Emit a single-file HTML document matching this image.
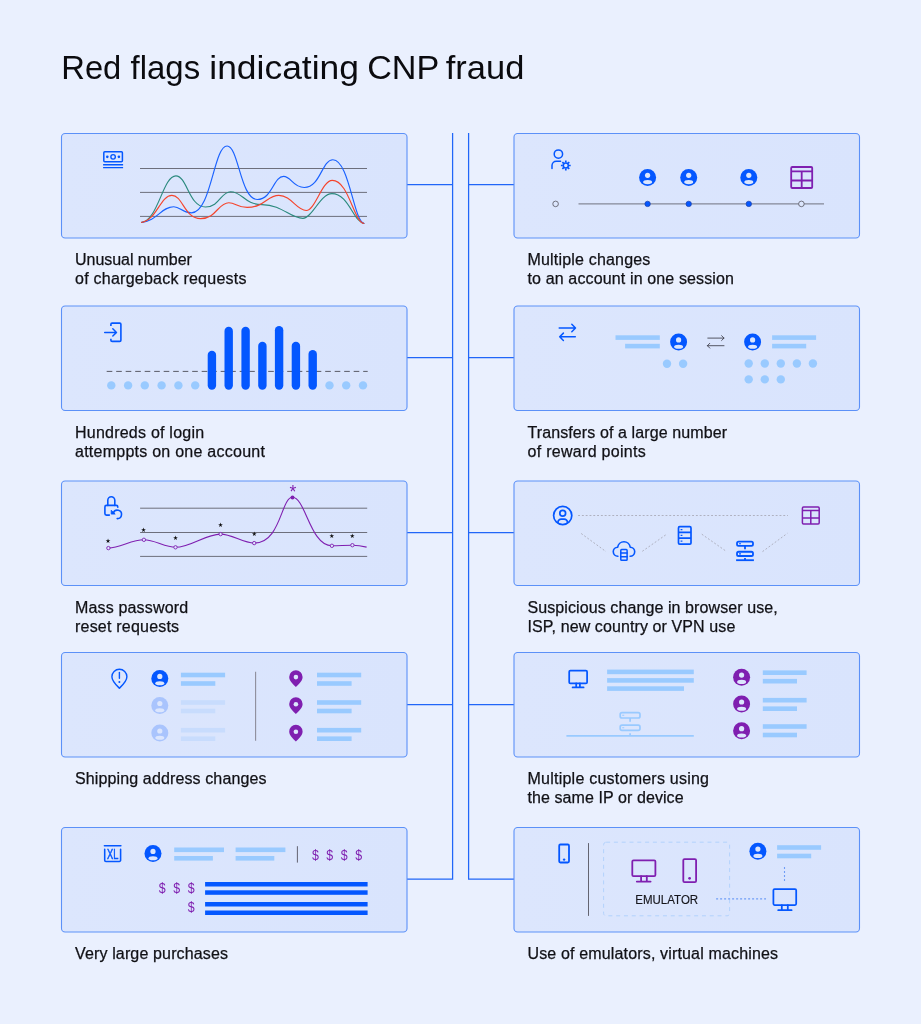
<!DOCTYPE html>
<html lang="en">
<head>
<meta charset="utf-8">
<title>Red flags indicating CNP fraud</title>
<style>
html,body{margin:0;padding:0;background:#eaf0fe;}
body{width:921px;height:1024px;overflow:hidden;position:relative;font-family:"Liberation Sans",Arial,sans-serif;}
svg{position:absolute;left:0;top:0;display:block}
text{font-family:"Liberation Sans",Arial,sans-serif;}
.title{font-size:33px;fill:#0b0b0f;}
.lbl{font-size:16px;fill:#111116;stroke:#111116;stroke-width:0.25;}
.card{fill:url(#cardg);stroke:#5c91f8;stroke-width:1.1;}
.conn{stroke:#2166f8;stroke-width:1.25;fill:none;}
.grid{stroke:#50505b;stroke-width:0.8;fill:none;}
.star{font-family:"DejaVu Sans",sans-serif;font-size:6.2px;fill:#111;text-anchor:middle;}
.dol{font-size:14.8px;fill:#7f1fb0;text-anchor:middle;}
</style>
</head>
<body>
<svg width="921" height="1024" viewBox="0 0 921 1024">
<defs>
<linearGradient id="cardg" x1="0" y1="0" x2="1" y2="0">
<stop offset="0" stop-color="#dce6fd"/><stop offset="1" stop-color="#d9e4fd"/>
</linearGradient>
</defs>
<rect width="921" height="1024" fill="#eaf0fe"/>
<!-- TITLE -->
<text id="title" class="title" y="79"><tspan x="61.3" textLength="60" lengthAdjust="spacingAndGlyphs">Red</tspan> <tspan x="130.6" textLength="69.5" lengthAdjust="spacingAndGlyphs">flags</tspan> <tspan x="209.3" textLength="149.7" lengthAdjust="spacingAndGlyphs">indicating</tspan> <tspan x="367.2" textLength="71.5" lengthAdjust="spacingAndGlyphs">CNP</tspan> <tspan x="445.8" textLength="78.5" lengthAdjust="spacingAndGlyphs">fraud</tspan></text>
<!-- CONNECTORS -->
<g class="conn" id="connectors">
<path d="M452.6 133V879.2H407"/>
<path d="M468.6 133V879.2H514"/>
<path d="M407 184.5H452.6M468.6 184.5H514"/>
<path d="M407 357.5H452.6M468.6 357.5H514"/>
<path d="M407 532.5H452.6M468.6 532.5H514"/>
<path d="M407 704.5H452.6M468.6 704.5H514"/>
</g>
<!-- CARDS -->
<g id="cards">
<rect class="card" x="61.5" y="133.5" width="345.5" height="104.5" rx="3.6"/>
<rect class="card" x="61.5" y="306" width="345.5" height="104.5" rx="3.6"/>
<rect class="card" x="61.5" y="481" width="345.5" height="104.5" rx="3.6"/>
<rect class="card" x="61.5" y="652.5" width="345.5" height="104.5" rx="3.6"/>
<rect class="card" x="61.5" y="827.5" width="345.5" height="104.5" rx="3.6"/>
<rect class="card" x="514" y="133.5" width="345.5" height="104.5" rx="3.6"/>
<rect class="card" x="514" y="306" width="345.5" height="104.5" rx="3.6"/>
<rect class="card" x="514" y="481" width="345.5" height="104.5" rx="3.6"/>
<rect class="card" x="514" y="652.5" width="345.5" height="104.5" rx="3.6"/>
<rect class="card" x="514" y="827.5" width="345.5" height="104.5" rx="3.6"/>
</g>
<!-- LABELS -->
<g id="labels" class="lbl">
<text x="75" y="265" textLength="116.9" lengthAdjust="spacing">Unusual number</text>
<text x="75" y="284" textLength="171.5" lengthAdjust="spacing">of chargeback requests</text>
<text x="75" y="438" textLength="129.1" lengthAdjust="spacing">Hundreds of login</text>
<text x="75" y="457" textLength="189.9" lengthAdjust="spacing">attemppts on one account</text>
<text x="75" y="613" textLength="113.1" lengthAdjust="spacing">Mass password</text>
<text x="75" y="632" textLength="104.1" lengthAdjust="spacing">reset requests</text>
<text x="75" y="784" textLength="191.5" lengthAdjust="spacing">Shipping address changes</text>
<text x="75" y="959" textLength="153.0" lengthAdjust="spacing">Very large purchases</text>
<text x="527.5" y="265" textLength="122.8" lengthAdjust="spacing">Multiple changes</text>
<text x="527.5" y="284" textLength="206.5" lengthAdjust="spacing">to an account in one session</text>
<text x="527.5" y="438" textLength="199.5" lengthAdjust="spacing">Transfers of a large number</text>
<text x="527.5" y="457" textLength="118.3" lengthAdjust="spacing">of reward points</text>
<text x="527.5" y="612.6" textLength="250.2" lengthAdjust="spacing">Suspicious change in browser use,</text>
<text x="527.5" y="631.6" textLength="207.8" lengthAdjust="spacing">ISP, new country or VPN use</text>
<text x="527.5" y="783.6" textLength="181.5" lengthAdjust="spacing">Multiple customers using</text>
<text x="527.5" y="802.6" textLength="156.1" lengthAdjust="spacing">the same IP or device</text>
<text x="527.5" y="959" textLength="250.5" lengthAdjust="spacing">Use of emulators, virtual machines</text>
</g>
<!-- CARD 1 -->
<g id="c1">
<g fill="none" stroke="#0457ff" stroke-width="1.5"><rect x="103.8" y="151.7" width="18.6" height="10" rx="1"/><circle cx="113.1" cy="156.85" r="2.25" stroke-width="1.4"/><path d="M103.1 164.75H123.1M103.1 167.6H123.1" stroke-width="1.4"/></g><circle cx="107.3" cy="156.85" r="1.3" fill="#0457ff"/><circle cx="118.9" cy="156.85" r="1.3" fill="#0457ff"/>
<path class="grid" d="M140 168.5H367M140 192.4H367M140 216.4H367"/>
<path d="M141.0 222.5C158.4 220.8 162.6 175.9 175.9 175.9C187.1 175.9 188.9 207.0 205.5 207.0C219.5 207.0 221.0 191.7 230.5 191.7C242.5 191.7 244.4 204.6 262.0 204.6C282.4 204.6 289.8 218.3 302.9 218.3C312.2 218.3 320.3 193.6 331.9 193.6C348.7 193.6 353.6 222.6 364.3 223.5" fill="none" stroke="#2b8a7e" stroke-width="1.15"/>
<path d="M141.0 222.5C157.4 220.9 161.3 206.7 173.8 206.7C180.5 206.7 181.5 212.9 191.4 212.9C211.4 212.9 213.5 146.0 227.1 146.0C238.6 146.0 240.4 199.5 257.4 199.5C272.0 199.5 273.6 176.4 283.5 176.4C291.4 176.4 292.7 187.5 304.3 187.5C320.3 187.5 322.0 159.7 332.9 159.7C349.2 159.7 353.9 222.7 364.3 223.5" fill="none" stroke="#1a62ff" stroke-width="1.15"/>
<path d="M141.0 222.5C156.4 221.0 160.2 195.4 171.9 195.4C182.8 195.4 184.5 218.6 200.6 218.6C216.4 218.6 218.1 202.7 228.8 202.7C235.8 202.7 236.9 207.3 247.1 207.3C264.9 207.3 266.8 195.4 278.9 195.4C291.2 195.4 296.6 210.5 306.2 210.5C315.3 210.5 321.9 180.4 332.3 180.4C348.9 180.4 353.7 222.7 364.3 223.5" fill="none" stroke="#f5442c" stroke-width="1.15"/>
</g>
<!-- CARD 2 -->
<g id="c2">
<g fill="none" stroke="#0457ff" stroke-width="1.6" stroke-linejoin="round"><path d="M110.9 325.9V324.3a1.2 1.2 0 0 1 1.2-1.2H119.7a1.2 1.2 0 0 1 1.2 1.2V340.2a1.2 1.2 0 0 1-1.2 1.2H112.1a1.2 1.2 0 0 1-1.2-1.2V338.8"/><path d="M104.7 332.4H116.2M112.8 328.7L116.5 332.4L112.8 336.1" stroke-width="1.45" stroke-linecap="round"/></g>
<path d="M106.7 371.4H367.7" stroke="#4a4a55" stroke-width="0.9" stroke-dasharray="5.6 3.9" fill="none"/>
<g fill="#99caff"><circle cx="111.3" cy="385.4" r="4.2"/><circle cx="128.1" cy="385.4" r="4.2"/><circle cx="144.8" cy="385.4" r="4.2"/><circle cx="161.6" cy="385.4" r="4.2"/><circle cx="178.4" cy="385.4" r="4.2"/><circle cx="195.2" cy="385.4" r="4.2"/><circle cx="329.5" cy="385.4" r="4.2"/><circle cx="346.2" cy="385.4" r="4.2"/><circle cx="363.0" cy="385.4" r="4.2"/></g>
<g stroke="#0457ff" stroke-width="8.4" stroke-linecap="round" fill="none"><path d="M211.9 354.9V385.6"/><path d="M228.7 331.0V385.6"/><path d="M245.6 331.0V385.6"/><path d="M262.4 346.0V385.6"/><path d="M279.1 330.2V385.6"/><path d="M295.9 346.0V385.6"/><path d="M312.7 354.1V385.6"/></g>
</g>
<!-- CARD 3 -->
<g id="c3">
<g fill="none" stroke="#0457ff" stroke-width="1.6" stroke-linecap="round" stroke-linejoin="round"><path d="M109.4 515.1H106.4a1.5 1.5 0 0 1-1.5-1.5V506.9a1.5 1.5 0 0 1 1.5-1.5H116.3a1.5 1.5 0 0 1 1.5 1.5V507.3"/><path d="M107.8 505.4V500.2a3.5 3.5 0 0 1 7 0V505.4"/><path d="M117.2 518.6A4.2 4.2 0 1 0 113.4 512.9"/></g><path d="M111.2 510.2V514.1H115.2Z" fill="#0457ff" stroke="#0457ff" stroke-width="0.8" stroke-linejoin="round"/>
<path class="grid" d="M140.1 508.2H367.2M140.1 532.5H367.2M140.1 556.4H367.2"/>
<path d="M108.4 548.1C120.5 547.5 131.8 539.8 143.9 539.8C154.6 539.8 164.8 547.3 175.5 547.3C190.8 547.3 205.3 534.1 220.6 534.1C232.0 534.1 242.8 543.1 254.2 543.1C281.0 543.1 281.0 497.3 292.5 497.3C305.5 497.3 310.2 545.8 331.9 545.8C338.9 545.8 345.4 545.2 352.4 545.2C357.2 545.2 361.8 545.9 366.6 547.1" fill="none" stroke="#7f1fb0" stroke-width="1.1"/>
<g fill="#dce6fd" stroke="#7f1fb0" stroke-width="0.9"><circle cx="108.4" cy="548.1" r="1.7"/><circle cx="143.9" cy="539.8" r="1.7"/><circle cx="175.5" cy="547.3" r="1.7"/><circle cx="220.6" cy="534.1" r="1.7"/><circle cx="254.2" cy="543.1" r="1.7"/><circle cx="331.9" cy="545.8" r="1.7"/><circle cx="352.4" cy="545.2" r="1.7"/></g><circle cx="292.5" cy="497.5" r="2" fill="#7f1fb0"/>
<text class="star" x="108.0" y="543.2">★</text><text class="star" x="143.5" y="532.2">★</text><text class="star" x="175.5" y="539.6">★</text><text class="star" x="220.6" y="526.5">★</text><text class="star" x="254.2" y="535.7">★</text><text class="star" x="331.9" y="538.4">★</text><text class="star" x="352.4" y="537.5">★</text>
<text x="292.8" y="497.8" font-size="17.5" fill="#7f1fb0" text-anchor="middle">*</text>
</g>
<!-- CARD 4 -->
<g id="c4">
<g fill="none" stroke="#0457ff" stroke-width="1.4" stroke-linecap="round" stroke-linejoin="round"><path d="M119.4 688.2C116 685 111.9 681.3 111.9 676.8a7.5 7.5 0 0 1 15 0C126.9 681.3 122.8 685 119.4 688.2Z"/><path d="M119.4 672.4V678.2"/></g><circle cx="119.4" cy="681.9" r="1" fill="#0457ff"/>
<g transform="translate(159.8 678.5)"><circle r="8.5" fill="#0457ff"/><circle cy="-2.1" r="2.6" fill="#dce6fd"/><ellipse cy="4.7" rx="4.5" ry="2.05" fill="#dce6fd"/></g><g transform="translate(159.8 705.6)"><circle r="8.5" fill="#a9c4fd"/><circle cy="-2.1" r="2.6" fill="#dce6fd"/><ellipse cy="4.7" rx="4.5" ry="2.05" fill="#dce6fd"/></g><g transform="translate(159.8 733.1)"><circle r="8.5" fill="#a9c4fd"/><circle cy="-2.1" r="2.6" fill="#dce6fd"/><ellipse cy="4.7" rx="4.5" ry="2.05" fill="#dce6fd"/></g>
<rect x="180.9" y="672.7" width="44.2" height="4.6" fill="#99caff"/><rect x="180.9" y="681.2" width="34.4" height="4.6" fill="#99caff"/><rect x="180.9" y="700.2" width="44.2" height="4.6" fill="#c8dcfd"/><rect x="180.9" y="708.7" width="34.4" height="4.6" fill="#c8dcfd"/><rect x="180.9" y="727.9" width="44.2" height="4.6" fill="#c8dcfd"/><rect x="180.9" y="736.4" width="34.4" height="4.6" fill="#c8dcfd"/>
<path d="M255.6 671.8V740.7" stroke="#8d8d9b" stroke-width="1.1" fill="none"/>
<path d="M295.9 687.0C293.4 684.4 289.2 681.0 289.2 676.9a6.7 6.7 0 0 1 13.4 0C302.6 681.0 298.4 684.4 295.9 687.0Z" fill="#7f1fb0"/><circle cx="295.9" cy="677.1" r="2.3" fill="#dce6fd"/><path d="M295.9 714.1C293.4 711.5 289.2 708.1 289.2 704.0a6.7 6.7 0 0 1 13.4 0C302.6 708.1 298.4 711.5 295.9 714.1Z" fill="#7f1fb0"/><circle cx="295.9" cy="704.2" r="2.3" fill="#dce6fd"/><path d="M295.9 741.6C293.4 739.0 289.2 735.6 289.2 731.5a6.7 6.7 0 0 1 13.4 0C302.6 735.6 298.4 739.0 295.9 741.6Z" fill="#7f1fb0"/><circle cx="295.9" cy="731.7" r="2.3" fill="#dce6fd"/>
<rect x="317.0" y="672.7" width="44.2" height="4.6" fill="#99caff"/><rect x="317.0" y="681.2" width="34.6" height="4.6" fill="#99caff"/><rect x="317.0" y="700.2" width="44.2" height="4.6" fill="#99caff"/><rect x="317.0" y="708.7" width="34.6" height="4.6" fill="#99caff"/><rect x="317.0" y="727.9" width="44.2" height="4.6" fill="#99caff"/><rect x="317.0" y="736.4" width="34.6" height="4.6" fill="#99caff"/>
</g>
<!-- CARD 5 -->
<g id="c5">
<path d="M104.4 845.8H120.9M104.7 849.2V860.2a1.2 1.2 0 0 0 1.2 1.2H119.4a1.2 1.2 0 0 0 1.2-1.2V849.2" fill="none" stroke="#0457ff" stroke-width="1.55" stroke-linecap="round"/><text x="107.1" y="858.6" font-size="14.4" fill="#0457ff" stroke="#0457ff" stroke-width="0.5" textLength="11.4" lengthAdjust="spacingAndGlyphs">XL</text>
<g transform="translate(153.0 853.5)"><circle r="8.5" fill="#0457ff"/><circle cy="-2.1" r="2.6" fill="#dce6fd"/><ellipse cy="4.7" rx="4.5" ry="2.05" fill="#dce6fd"/></g>
<rect x="174.2" y="847.5" width="49.8" height="4.6" fill="#99caff"/><rect x="174.2" y="856.0" width="38.7" height="4.6" fill="#99caff"/><rect x="235.6" y="847.5" width="49.8" height="4.6" fill="#99caff"/><rect x="235.6" y="856.0" width="38.7" height="4.6" fill="#99caff"/>
<path d="M297.4 846.2V862.6" stroke="#5d5d69" stroke-width="0.95" fill="none"/>
<g class="dol"><text transform="translate(315.5 859.6) scale(0.84 1)">$</text><text transform="translate(329.8 859.6) scale(0.84 1)">$</text><text transform="translate(344.3 859.6) scale(0.84 1)">$</text><text transform="translate(358.7 859.6) scale(0.84 1)">$</text><text transform="translate(162.3 893.0) scale(0.84 1)">$</text><text transform="translate(176.6 893.0) scale(0.84 1)">$</text><text transform="translate(191.1 893.0) scale(0.84 1)">$</text><text transform="translate(191.1 912.0) scale(0.84 1)">$</text></g>
<g fill="#0457ff"><rect x="205.1" y="882" width="162.5" height="4.5"/><rect x="205.1" y="890.3" width="162.5" height="4.5"/><rect x="205.1" y="902" width="162.5" height="4.5"/><rect x="205.1" y="910.5" width="162.5" height="4.5"/></g>
</g>
<!-- CARD 6 -->
<g id="c6">
<g fill="none" stroke="#0457ff" stroke-width="1.5" stroke-linecap="round"><circle cx="558.4" cy="154.1" r="4.2"/><path d="M552 168.4V165.6a4.3 4.3 0 0 1 4.3-4.3H560.6"/><circle cx="565.8" cy="165.5" r="2.5" stroke-width="1.5"/><path d="M568.80 165.50L570.70 165.50M567.92 167.62L569.26 168.96M565.80 168.50L565.80 170.40M563.68 167.62L562.34 168.96M562.80 165.50L560.90 165.50M563.68 163.38L562.34 162.04M565.80 162.50L565.80 160.60M567.92 163.38L569.26 162.04" stroke-width="1.7" stroke-linecap="butt"/></g>
<path d="M578.5 203.9H824" stroke="#55555f" stroke-width="0.8" fill="none"/>
<circle cx="555.6" cy="203.9" r="2.8" fill="#dce6fd" stroke="#55555f" stroke-width="0.8"/><g transform="translate(647.6 177.4)"><circle r="8.5" fill="#0457ff"/><circle cy="-2.1" r="2.6" fill="#dce6fd"/><ellipse cy="4.7" rx="4.5" ry="2.05" fill="#dce6fd"/></g><circle cx="647.6" cy="203.9" r="2.7" fill="#0457ff" stroke="#1d3fa8" stroke-width="0.7"/><g transform="translate(688.7 177.4)"><circle r="8.5" fill="#0457ff"/><circle cy="-2.1" r="2.6" fill="#dce6fd"/><ellipse cy="4.7" rx="4.5" ry="2.05" fill="#dce6fd"/></g><circle cx="688.7" cy="203.9" r="2.7" fill="#0457ff" stroke="#1d3fa8" stroke-width="0.7"/><g transform="translate(748.8 177.4)"><circle r="8.5" fill="#0457ff"/><circle cy="-2.1" r="2.6" fill="#dce6fd"/><ellipse cy="4.7" rx="4.5" ry="2.05" fill="#dce6fd"/></g><circle cx="748.8" cy="203.9" r="2.7" fill="#0457ff" stroke="#1d3fa8" stroke-width="0.7"/><circle cx="801.4" cy="203.9" r="2.8" fill="#dce6fd" stroke="#55555f" stroke-width="0.8"/>
<g fill="none" stroke="#7f1fb0" stroke-width="1.8"><rect x="791.2" y="167.0" width="21.0" height="21.0" rx="1.1"/><path d="M791.2 171.4H812.2M791.2 180.5H812.2M801.7 171.4V188.0"/></g>
</g>
<!-- CARD 7 -->
<g id="c7">
<g fill="none" stroke="#0457ff" stroke-width="1.5" stroke-linecap="round" stroke-linejoin="round"><path d="M559.2 328H575.4M571.8 324.3L575.5 328L571.8 331.7"/><path d="M575.3 336.8H559.8M563.4 333.1L559.7 336.8L563.4 340.5"/></g>
<rect x="615.5" y="335.3" width="44.3" height="4.6" fill="#99caff"/><rect x="625.1" y="343.8" width="34.7" height="4.6" fill="#99caff"/>
<g transform="translate(678.6 342.0)"><circle r="8.5" fill="#0457ff"/><circle cy="-2.1" r="2.6" fill="#dce6fd"/><ellipse cy="4.7" rx="4.5" ry="2.05" fill="#dce6fd"/></g><g transform="translate(752.6 342.0)"><circle r="8.5" fill="#0457ff"/><circle cy="-2.1" r="2.6" fill="#dce6fd"/><ellipse cy="4.7" rx="4.5" ry="2.05" fill="#dce6fd"/></g>
<g fill="none" stroke="#3c3c48" stroke-width="0.85" stroke-linecap="round" stroke-linejoin="round"><path d="M707.8 338.1H724M721.6 335.7L724 338.1L721.6 340.5"/><path d="M724 345.7H707.4M709.8 343.3L707.4 345.7L709.8 348.1"/></g>
<rect x="772.1" y="335.3" width="44.0" height="4.6" fill="#99caff"/><rect x="772.1" y="343.8" width="34.1" height="4.6" fill="#99caff"/>
<g fill="#99caff"><circle cx="667.0" cy="363.8" r="4.2"/><circle cx="683.1" cy="363.8" r="4.2"/><circle cx="748.7" cy="363.5" r="4.2"/><circle cx="764.8" cy="363.5" r="4.2"/><circle cx="780.8" cy="363.5" r="4.2"/><circle cx="796.9" cy="363.5" r="4.2"/><circle cx="812.9" cy="363.5" r="4.2"/><circle cx="748.7" cy="379.4" r="4.2"/><circle cx="764.8" cy="379.4" r="4.2"/><circle cx="780.8" cy="379.4" r="4.2"/></g>
</g>
<!-- CARD 8 -->
<g id="c8">
<clipPath id="uclip"><circle cx="562.7" cy="515.5" r="9.4"/></clipPath><g fill="none" stroke="#0457ff" stroke-width="1.7"><circle cx="562.7" cy="515.5" r="9.1"/><circle cx="562.7" cy="513.2" r="2.9"/><rect x="557.9" y="519.2" width="9.6" height="9" rx="3.4" clip-path="url(#uclip)"/></g>
<g fill="none" stroke="#a3a3b0" stroke-width="0.8" stroke-dasharray="1.9 1.9"><path d="M578.1 515.5H788"/><path d="M581.2 533.5L606 551.6"/><path d="M642.3 551.3L667 534"/><path d="M701.8 534.2L726.5 551.5"/><path d="M762.5 551.6L787.4 533.3"/></g>
<g fill="none" stroke="#0457ff" stroke-width="1.6" stroke-linecap="round" stroke-linejoin="round"><path d="M617.9 556.3A4.52 4.52 0 0 1 617.7 547.2A6.3 6.3 0 0 1 630.2 547.2A4.52 4.52 0 0 1 630.1 556.3"/><rect x="620.8" y="549.6" width="6.3" height="10.6" rx="0.8" stroke-width="1.5"/><path d="M620.8 553H627.1M620.8 556.7H627.1" stroke-width="1.4"/></g>
<g fill="none" stroke="#0457ff" stroke-width="1.7"><rect x="678.5" y="526.7" width="12.5" height="17.4" rx="1.2"/><path d="M678.5 532.4H691M678.5 538.1H691"/><path d="M680.6 529.6h1.8M680.6 535.3h1.8M680.6 541.1h1.8" stroke-width="1.2"/></g>
<g fill="none" stroke="#0457ff" stroke-width="1.8"><rect x="737.0" y="541.55" width="16.0" height="4.25" rx="1.6"/><rect x="737.0" y="551.75" width="16.0" height="4.25" rx="1.6"/><path d="M745.0 545.80v3.50M745.0 560.20v-2.30"/><path d="M739.0 543.67h2M739.0 553.88h2" stroke-width="1.08"/><path d="M736.10 560.20H753.90"/></g>
<g fill="none" stroke="#7f1fb0" stroke-width="1.5"><rect x="802.4" y="507.1" width="16.8" height="16.8" rx="1.1"/><path d="M802.4 510.6H819.2M802.4 517.9H819.2M810.8 510.6V523.9"/></g>
</g>
<!-- CARD 9 -->
<g id="c9">
<g fill="none" stroke="#0457ff" stroke-width="1.75"><rect x="569.2" y="670.5" width="17.9" height="12.9" rx="1.2"/><path d="M576.2 683.4V687.4M579.9 683.4V687.4M572.6 687.4H583.6" stroke-linecap="round"/></g>
<g fill="#99caff"><rect x="607.1" y="669.6" width="86.7" height="4.6"/><rect x="607.1" y="678.1" width="86.7" height="4.6"/><rect x="607.1" y="686.3" width="76.9" height="4.6"/></g>
<g fill="none" stroke="#99caff" stroke-width="1.7"><rect x="620.2" y="712.70" width="19.8" height="5.3" rx="1.8"/><rect x="620.2" y="725.10" width="19.8" height="5.3" rx="1.8"/><path d="M630.1 718.00v3.65M630.1 735.90v-2.65"/><path d="M622.2 715.35h2M622.2 727.75h2" stroke-width="1.02"/></g><path d="M566.4 735.9H693.8" stroke="#99caff" stroke-width="1.7" fill="none"/>
<g transform="translate(741.6 677.2)"><circle r="8.5" fill="#7f1fb0"/><circle cy="-2.1" r="2.6" fill="#dce6fd"/><ellipse cy="4.7" rx="4.5" ry="2.05" fill="#dce6fd"/></g><g transform="translate(741.6 704.1)"><circle r="8.5" fill="#7f1fb0"/><circle cy="-2.1" r="2.6" fill="#dce6fd"/><ellipse cy="4.7" rx="4.5" ry="2.05" fill="#dce6fd"/></g><g transform="translate(741.6 730.8)"><circle r="8.5" fill="#7f1fb0"/><circle cy="-2.1" r="2.6" fill="#dce6fd"/><ellipse cy="4.7" rx="4.5" ry="2.05" fill="#dce6fd"/></g>
<rect x="762.8" y="670.4" width="43.8" height="4.6" fill="#99caff"/><rect x="762.8" y="678.9" width="34.2" height="4.6" fill="#99caff"/><rect x="762.8" y="697.9" width="43.8" height="4.6" fill="#99caff"/><rect x="762.8" y="706.4" width="34.2" height="4.6" fill="#99caff"/><rect x="762.8" y="724.2" width="43.8" height="4.6" fill="#99caff"/><rect x="762.8" y="732.7" width="34.2" height="4.6" fill="#99caff"/>
</g>
<!-- CARD 10 -->
<g id="c10">
<g fill="none" stroke="#0457ff" stroke-width="1.8"><rect x="559.2" y="844.5" width="9.8" height="18.0" rx="1.2"/><circle cx="564.1" cy="859.6" r="1.2" fill="#0457ff" stroke="none"/></g>
<path d="M588.5 843.1V915.9" stroke="#5d5d69" stroke-width="0.95" fill="none"/>
<rect x="603.6" y="842.2" width="126" height="73.6" rx="2.5" fill="none" stroke="#b3d2fc" stroke-width="1" stroke-dasharray="4 3.8"/>
<g fill="none" stroke="#7f1fb0" stroke-width="1.8"><rect x="632.3" y="860.4" width="23.1" height="15.7" rx="1.2"/><path d="M641.1 876.1V881.6M646.8 876.1V881.6M636.8 881.6H650.6" stroke-linecap="round"/></g>
<g fill="none" stroke="#7f1fb0" stroke-width="1.8"><rect x="683.3" y="859.1" width="12.8" height="23.0" rx="1.2"/><circle cx="689.6" cy="878.3" r="1.35" fill="#7f1fb0" stroke="none"/></g>
<text x="635.3" y="903.8" font-size="12" fill="#16161c" stroke="#16161c" stroke-width="0.15" textLength="62.9" lengthAdjust="spacingAndGlyphs">EMULATOR</text>
<g transform="translate(757.9 851.2)"><circle r="8.5" fill="#0457ff"/><circle cy="-2.1" r="2.6" fill="#dce6fd"/><ellipse cy="4.7" rx="4.5" ry="2.05" fill="#dce6fd"/></g>
<rect x="777.1" y="845.2" width="44.0" height="4.6" fill="#99caff"/><rect x="777.1" y="853.7" width="34.1" height="4.6" fill="#99caff"/>
<path d="M784.5 867V882M716.1 898.9H766" stroke="#6f9df6" stroke-width="1.1" stroke-dasharray="2 2" fill="none"/>
<g fill="none" stroke="#0457ff" stroke-width="1.75"><rect x="773.4" y="889" width="22.8" height="16.0" rx="1.2"/><path d="M781.8 905.0V910.2M787.8 905.0V910.2M778.2 910.2H791.6" stroke-linecap="round"/></g>
</g>
</svg>
</body>
</html>
